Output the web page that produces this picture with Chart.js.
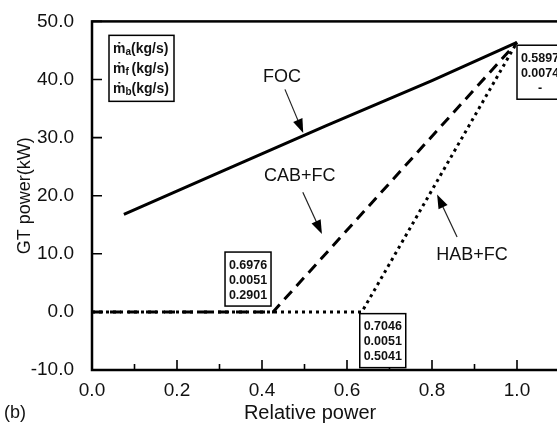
<!DOCTYPE html>
<html>
<head>
<meta charset="utf-8">
<script src="https://cdn.jsdelivr.net/npm/chart.js@4"></script>
<style>
  html, body { margin: 0; padding: 0; background: #fff; overflow: hidden; }
</style>
</head>
<body>
<canvas id="gtChart" width="620" height="425"></canvas>
<script>
// relative power vs GT power (kW)
const focX = [0.075, 0.3, 0.55, 0.8, 1.0];
const focY = [16.8, 24.0, 32.0, 39.8, 46.4];
const cabX = [0.0, 0.426, 1.0];
const cabY = [0.0, 0.0, 46.4];
const habX = [0.0, 0.635, 1.0];
const habY = [0.0, 0.0, 46.4];

const xTicks = [0.0, 0.2, 0.4, 0.6, 0.8, 1.0, 1.2];
const xMinorTicks = [0.1, 0.3, 0.5, 0.7, 0.9, 1.1];
const yTicks = [-10, 0, 10, 20, 30, 40, 50];

// flow-rate boxes: anchor (top-left) in data units
const boxAnchors = [
  { x: 0.313, y: 10.3, lines: ['0.6976', '0.0051', '0.2901'] },
  { x: 0.630, y: -0.3, lines: ['0.7046', '0.0051', '0.5041'] },
  { x: 1.0, y: 45.9, lines: ['0.5897', '0.0074', '-'] }
];
const legendBox = { x: 0.04, y: 47.6, subs: ['a', 'f ', 'b'] };

// curve labels with arrows: label pos, arrow start, arrow tip
const curveLabels = [
  { text: 'FOC', at: [0.447, 40.5], from: [0.454, 38.3], to: [0.497, 30.8] },
  { text: 'CAB+FC', at: [0.489, 23.4], from: [0.496, 20.6], to: [0.541, 13.4] },
  { text: 'HAB+FC', at: [0.894, 9.8], from: [0.859, 12.9], to: [0.812, 20.2] }
];

const FONT = '"Liberation Sans", Arial, sans-serif';

function toPoints(xs, ys) {
  return xs.map((x, i) => ({ x, y: ys[i] }));
}

function drawArrow(ctx, x1, y1, x2, y2) {
  const ang = Math.atan2(y2 - y1, x2 - x1);
  const len = 14, half = 5;
  ctx.lineWidth = 1.2;
  ctx.strokeStyle = '#222';
  ctx.beginPath();
  ctx.moveTo(x1, y1);
  ctx.lineTo(x2 - Math.cos(ang) * len * 0.8, y2 - Math.sin(ang) * len * 0.8);
  ctx.stroke();
  ctx.fillStyle = '#000';
  ctx.beginPath();
  ctx.moveTo(x2, y2);
  ctx.lineTo(x2 - Math.cos(ang) * len - Math.sin(ang) * half, y2 - Math.sin(ang) * len + Math.cos(ang) * half);
  ctx.lineTo(x2 - Math.cos(ang) * len + Math.sin(ang) * half, y2 - Math.sin(ang) * len - Math.cos(ang) * half);
  ctx.closePath();
  ctx.fill();
}

const decorPlugin = {
  id: 'decor',
  afterDatasetsDraw(chart) {
    const { ctx, chartArea: a, scales: { x, y } } = chart;
    ctx.save();

    // frame
    ctx.strokeStyle = '#000';
    ctx.lineWidth = 2.5;
    ctx.strokeRect(a.left, a.top, a.right - a.left, a.bottom - a.top);

    // inward ticks
    ctx.lineWidth = 1.6;
    ctx.beginPath();
    xTicks.forEach(v => {
      const px = x.getPixelForValue(v);
      ctx.moveTo(px, a.bottom); ctx.lineTo(px, a.bottom - 10);
    });
    xMinorTicks.forEach(v => {
      const px = x.getPixelForValue(v);
      ctx.moveTo(px, a.bottom); ctx.lineTo(px, a.bottom - 6);
    });
    yTicks.forEach(v => {
      const py = y.getPixelForValue(v);
      ctx.moveTo(a.left, py); ctx.lineTo(a.left + 10, py);
    });
    ctx.stroke();

    // value boxes
    boxAnchors.forEach(b => {
      const bx = x.getPixelForValue(b.x);
      const by = y.getPixelForValue(b.y);
      const w = 46, h = 54;
      ctx.fillStyle = '#fff';
      ctx.fillRect(bx, by, w, h);
      ctx.lineWidth = 1.5;
      ctx.strokeStyle = '#000';
      ctx.strokeRect(bx, by, w, h);
      ctx.fillStyle = '#111';
      ctx.font = 'bold 12.5px ' + FONT;
      ctx.textAlign = 'center';
      ctx.textBaseline = 'middle';
      b.lines.forEach((t, i) => ctx.fillText(t, bx + w / 2, by + 13 + i * 15));
    });

    // mass-flow legend box
    const lx = x.getPixelForValue(legendBox.x);
    const ly = y.getPixelForValue(legendBox.y);
    ctx.fillStyle = '#fff';
    ctx.fillRect(lx, ly, 65, 66);
    ctx.lineWidth = 1.5;
    ctx.strokeRect(lx, ly, 65, 66);
    ctx.fillStyle = '#111';
    ctx.textAlign = 'left';
    ctx.textBaseline = 'middle';
    legendBox.subs.forEach((s, i) => {
      const ty = ly + 14 + i * 20;
      let tx = lx + 4;
      ctx.font = 'bold 14px ' + FONT;
      ctx.fillText('\u1E41', tx, ty);
      tx += ctx.measureText('\u1E41').width;
      ctx.font = 'bold 10px ' + FONT;
      ctx.fillText(s, tx, ty + 3);
      tx += ctx.measureText(s).width;
      ctx.font = 'bold 14px ' + FONT;
      ctx.fillText('(kg/s)', tx, ty);
    });

    // curve labels + arrows
    ctx.font = '18px ' + FONT;
    ctx.textAlign = 'center';
    curveLabels.forEach(c => {
      ctx.fillStyle = '#111';
      ctx.fillText(c.text, x.getPixelForValue(c.at[0]), y.getPixelForValue(c.at[1]));
      drawArrow(ctx,
        x.getPixelForValue(c.from[0]), y.getPixelForValue(c.from[1]),
        x.getPixelForValue(c.to[0]), y.getPixelForValue(c.to[1]));
    });

    // axis title and panel tag
    ctx.fillStyle = '#111';
    ctx.font = '20px ' + FONT;
    ctx.fillText('Relative power', x.getPixelForValue(0.513), a.bottom + 43);
    ctx.textAlign = 'left';
    ctx.font = '18px ' + FONT;
    ctx.fillText('(b)', 4, a.bottom + 43);

    ctx.restore();
  }
};

new Chart(document.getElementById('gtChart'), {
  type: 'scatter',
  data: {
    datasets: [
      {
        label: 'FOC',
        data: toPoints(focX, focY),
        showLine: true,
        borderColor: '#000',
        borderWidth: 3,
        pointRadius: 0
      },
      {
        label: 'CAB+FC',
        data: toPoints(cabX, cabY),
        showLine: true,
        borderColor: '#000',
        borderWidth: 3,
        borderDash: [11, 7],
        pointRadius: 0
      },
      {
        label: 'HAB+FC',
        data: toPoints(habX, habY),
        showLine: true,
        borderColor: '#000',
        borderWidth: 3,
        borderDash: [3, 4],
        pointRadius: 0
      }
    ]
  },
  options: {
    responsive: false,
    animation: false,
    layout: { padding: { left: 0, top: 17, right: 18, bottom: 0 } },
    plugins: {
      legend: { display: false },
      tooltip: { enabled: false }
    },
    scales: {
      x: {
        type: 'linear',
        min: 0,
        max: 1.2,
        afterBuildTicks: s => { s.ticks = xTicks.map(v => ({ value: v })); },
        afterFit: s => { s.height = 55; },
        grid: { display: false },
        border: { display: false },
        ticks: {
          color: '#111',
          padding: 1,
          font: { size: 19, family: FONT },
          callback: v => v.toFixed(1)
        }
      },
      y: {
        type: 'linear',
        min: -10,
        max: 50,
        afterBuildTicks: s => { s.ticks = yTicks.map(v => ({ value: v })); },
        afterFit: s => { s.width = 92; },
        grid: { display: false },
        border: { display: false },
        ticks: {
          color: '#111',
          padding: 10,
          font: { size: 19, family: FONT },
          callback: v => v.toFixed(1)
        },
        title: {
          display: true,
          text: 'GT power(kW)',
          color: '#111',
          font: { size: 18, family: FONT },
          padding: { top: 14 }
        }
      }
    }
  },
  plugins: [decorPlugin]
});
</script>
</body>
</html>
